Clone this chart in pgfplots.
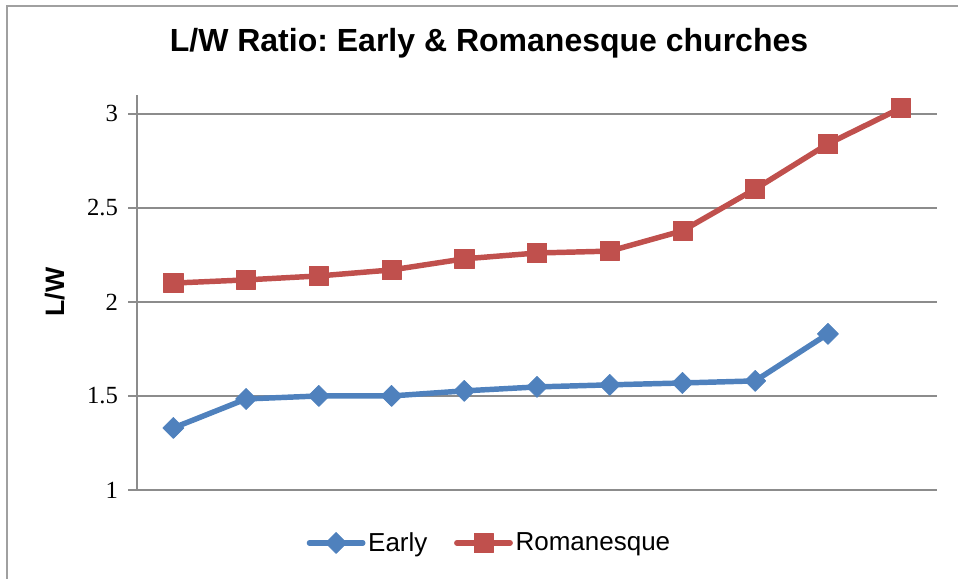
\documentclass[border=0pt]{standalone}
\usepackage{pgfplots}
\pgfplotsset{compat=1.18}
\usepackage{fontspec}
\setmainfont{Liberation Sans}
\newfontfamily\serif{Liberation Serif}
\definecolor{eblue}{HTML}{4F81BD}
\definecolor{rred}{HTML}{C0504D}
\definecolor{gridc}{HTML}{8C8C8C}
\definecolor{framec}{HTML}{A0A0A0}
\frenchspacing
\begin{document}
\begin{tikzpicture}
\path[use as bounding box] (0pt,0pt) rectangle (718.5pt,434.25pt);
\draw[framec, line width=1.5pt] (4.875pt,-10pt) -- (4.875pt,429.375pt) -- (730pt,429.375pt);
\node[font=\fontsize{24}{28}\selectfont\bfseries, anchor=base] at (366.75pt,395.25pt) {L/W Ratio: Early \& Romanesque churches};
\node[rotate=90, font=\fontsize{20}{22}\selectfont\bfseries] at (41pt,215.25pt) {L/W};
\begin{axis}[
  at={(102.75pt,66.75pt)}, anchor=south west,
  scale only axis, width=600pt, height=296.25pt,
  xmin=0.5, xmax=11.5, ymin=1, ymax=3.1,
  axis x line*=bottom, axis y line*=left,
  axis line style={gridc, line width=1.1pt, -},
  xtick=\empty,
  ytick={1,1.5,2,2.5,3},
  ymajorgrids,
  grid style={gridc, line width=1.1pt},
  tick align=outside,
  major tick length=6.75pt,
  tick style={gridc, line width=1.1pt},
  /pgf/number format/assume math mode=true,
  yticklabel style={font=\serif\fontsize{18.5}{20}\selectfont, xshift=-4pt},
  legend style={at={(0.441,-0.134)}, anchor=center, draw=none, fill=none,
    legend columns=2, font=\fontsize{19.5}{22}\selectfont,
    /tikz/every even column/.append style={column sep=18pt},
    inner sep=0pt},
  legend image code/.code={\draw[mark repeat=2,mark phase=2, line cap=round] plot coordinates {(0pt,0pt)(20pt,0pt)(40pt,0pt)};},
  clip=false,
]
\addplot[eblue, line width=4.1pt, line join=round, mark=square*, mark size=5.6pt,
  mark options={rotate=45, solid, line width=0.5pt}]
  coordinates {(1,1.33)(2,1.484)(3,1.50)(4,1.50)(5,1.527)(6,1.548)(7,1.559)(8,1.569)(9,1.58)(10,1.83)};
\addlegendentry{Early}
\addplot[rred, line width=4.1pt, line join=round, mark=square*, mark size=7.2pt,
  mark options={solid, line width=0.5pt}]
  coordinates {(1,2.10)(2,2.117)(3,2.138)(4,2.17)(5,2.229)(6,2.26)(7,2.27)(8,2.378)(9,2.60)(10,2.84)(11,3.03)};
\addlegendentry{Romanesque}
\end{axis}
\end{tikzpicture}
\end{document}
